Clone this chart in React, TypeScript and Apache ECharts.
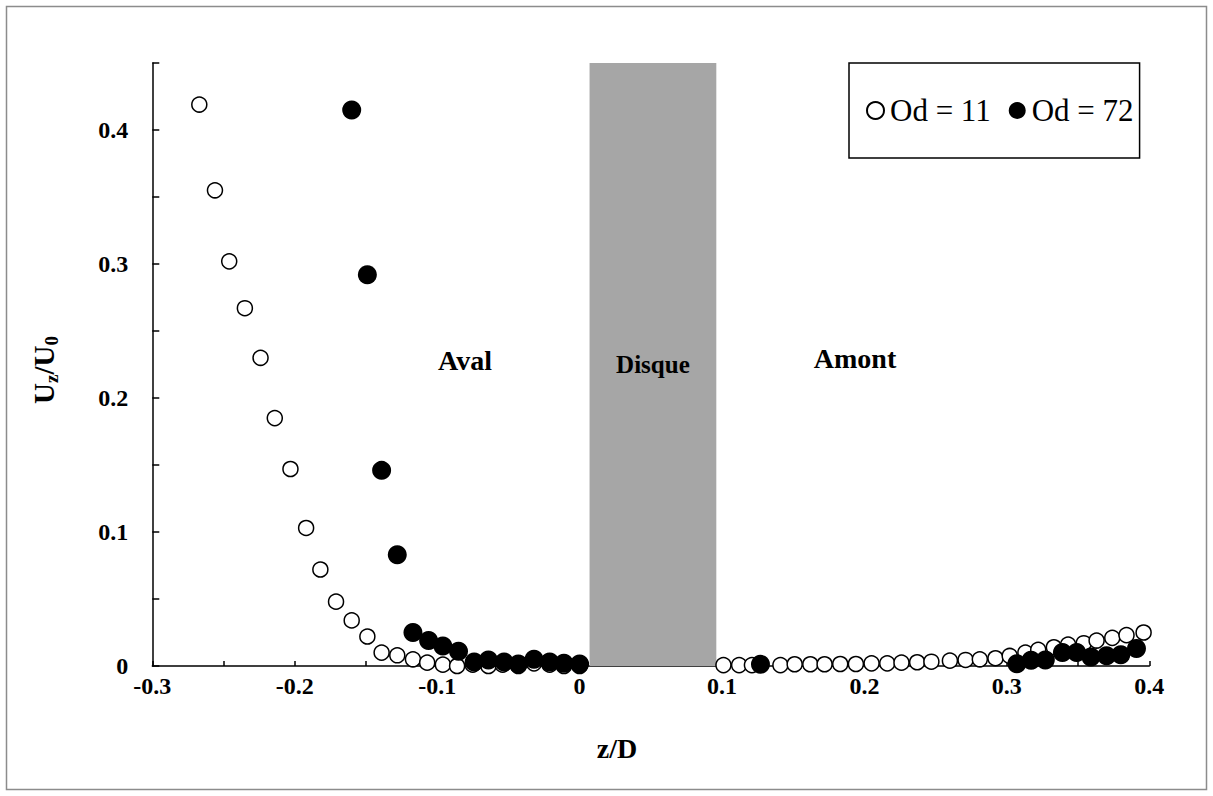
import React, { useEffect, useRef } from 'react';
import * as echarts from 'echarts';

// Od = 11 (open circles)
const od11X = [
  -0.267, -0.256, -0.246, -0.235, -0.224, -0.214, -0.203, -0.192, -0.182, -0.171,
  -0.160, -0.149, -0.139, -0.128, -0.117, -0.107, -0.096, -0.086, -0.075, -0.064,
  -0.054, -0.043, -0.032, -0.021, -0.011, 0.000,
  0.101, 0.112, 0.121, 0.141, 0.151, 0.162, 0.172, 0.183, 0.194, 0.205,
  0.216, 0.226, 0.237, 0.247, 0.260, 0.271, 0.281, 0.292, 0.302, 0.313,
  0.322, 0.333, 0.343, 0.354, 0.363, 0.374, 0.384, 0.396,
];
const od11Y = [
  0.419, 0.355, 0.302, 0.267, 0.230, 0.185, 0.147, 0.103, 0.072, 0.048,
  0.034, 0.022, 0.010, 0.008, 0.005, 0.0025, 0.001, 0.0, 0.001, 0.0,
  0.001, 0.0, 0.002, 0.001, 0.0, 0.0,
  0.0007, 0.0007, 0.0007, 0.0007, 0.0013, 0.0013, 0.0013, 0.0015, 0.0015, 0.002,
  0.002, 0.0025, 0.0028, 0.0032, 0.004, 0.0045, 0.005, 0.0058, 0.0075, 0.010,
  0.012, 0.014, 0.016, 0.017, 0.019, 0.021, 0.023, 0.025,
];

// Od = 72 (filled circles)
const od72X = [
  -0.160, -0.149, -0.139, -0.128, -0.117, -0.106, -0.096, -0.085, -0.074, -0.064,
  -0.053, -0.043, -0.032, -0.021, -0.011, 0.000,
  0.127,
  0.307, 0.317, 0.327, 0.339, 0.349, 0.359, 0.370, 0.380, 0.391,
];
const od72Y = [
  0.415, 0.292, 0.146, 0.083, 0.025, 0.019, 0.015, 0.011, 0.003, 0.0045,
  0.003, 0.0015, 0.005, 0.003, 0.002, 0.0015,
  0.0013,
  0.0017, 0.0043, 0.0045, 0.010, 0.010, 0.0067, 0.0077, 0.0084, 0.013,
];

const seriesNames = ['Od = 11', 'Od = 72'];
const diskRange = [0.007, 0.096];
const diskLabel = 'Disque';
const regionLabels = ['Aval', 'Amont'];

const FONT = '"Liberation Serif", "Times New Roman", serif';

const fmt = (v: number) => {
  const r = Math.round(v * 100);
  if (r % 10 !== 0) return '';
  return r === 0 ? '0' : (r / 100).toFixed(1);
};

export default function App() {
  const ref = useRef<HTMLDivElement>(null);
  useEffect(() => {
    const chart = echarts.init(ref.current!, null, { renderer: 'svg' });
    const axisCommon = {
      axisLine: { show: true, onZero: false, lineStyle: { color: '#000', width: 1.5 } },
      splitLine: { show: false },
      axisLabel: {
        color: '#000',
        fontFamily: FONT,
        fontWeight: 'bold',
        fontSize: 24,
        formatter: fmt,
        showMinLabel: true,
        showMaxLabel: true,
      },
    };
    chart.setOption({
      animation: false,
      backgroundColor: '#fff',
      grid: { left: 152.3, right: 63.7, top: 63, bottom: 130, containLabel: false },
      xAxis: {
        type: 'value',
        min: -0.3,
        max: 0.4,
        interval: 0.05,
        ...axisCommon,
        axisTick: { show: true, inside: true, length: 5, lineStyle: { color: '#000', width: 1.5 } },
        axisLabel: { ...axisCommon.axisLabel, margin: 8 },
      },
      yAxis: {
        type: 'value',
        min: 0,
        max: 0.45,
        interval: 0.05,
        ...axisCommon,
        axisTick: { show: true, inside: true, length: 7, lineStyle: { color: '#000', width: 1.5 } },
        axisLabel: { ...axisCommon.axisLabel, margin: 24 },
      },
      legend: {
        data: seriesNames,
        left: 849,
        top: 63,
        orient: 'horizontal',
        padding: [32, 6, 32, 17],
        itemGap: 18,
        itemWidth: 17,
        itemHeight: 17,
        borderColor: '#000',
        borderWidth: 1.5,
        textStyle: { fontFamily: FONT, fontSize: 31, color: '#000', padding: [0, 0, 0, 1] },
        selectedMode: false,
      },
      series: [
        {
          name: 'disk',
          type: 'scatter',
          data: [],
          silent: true,
          markArea: {
            silent: true,
            itemStyle: { color: '#a6a6a6' },
            label: {
              show: true,
              position: 'inside',
              formatter: diskLabel,
              fontFamily: FONT,
              fontWeight: 'bold',
              fontSize: 25,
              color: '#000',
            },
            data: [[{ coord: [diskRange[0], 0] }, { coord: [diskRange[1], 0.453] }]],
          },
        },
        {
          name: seriesNames[0],
          type: 'scatter',
          symbol: 'circle',
          symbolSize: 15,
          itemStyle: { color: '#fff', borderColor: '#000', borderWidth: 1.5, opacity: 1 },
          data: od11X.map((x, i) => [x, od11Y[i]]),
          z: 3,
        },
        {
          name: seriesNames[1],
          type: 'scatter',
          symbol: 'circle',
          symbolSize: 19,
          itemStyle: { color: '#000', opacity: 1 },
          data: od72X.map((x, i) => [x, od72Y[i]]),
          z: 4,
        },
      ],
      graphic: [
        {
          type: 'rect',
          shape: { x: 6.5, y: 6.5, width: 1200, height: 783 },
          style: { fill: 'none', stroke: '#8c8c8c', lineWidth: 1.5 },
          silent: true,
          z: -10,
        },
        {
          type: 'text',
          x: 465,
          y: 360,
          style: {
            text: regionLabels[0],
            font: `bold 28px ${FONT}`,
            fill: '#000',
            align: 'center',
            verticalAlign: 'middle',
          },
        },
        {
          type: 'text',
          x: 855,
          y: 358,
          style: {
            text: regionLabels[1],
            font: `bold 28px ${FONT}`,
            fill: '#000',
            align: 'center',
            verticalAlign: 'middle',
          },
        },
        {
          type: 'text',
          x: 617,
          y: 748,
          style: {
            text: 'z/D',
            font: `bold 28px ${FONT}`,
            fill: '#000',
            align: 'center',
            verticalAlign: 'middle',
          },
        },
        {
          type: 'text',
          x: 44,
          y: 370,
          rotation: Math.PI / 2,
          style: {
            text: '{b|U}{s|z}{b|/U}{s|0}',
            align: 'center',
            verticalAlign: 'middle',
            fill: '#000',
            rich: {
              b: { fontFamily: FONT, fontWeight: 'bold', fontSize: 29, lineHeight: 34, fill: '#000' },
              s: { fontFamily: FONT, fontWeight: 'bold', fontSize: 19, lineHeight: 12, verticalAlign: 'bottom', fill: '#000' },
            },
          },
        },
      ],
    });
    return () => chart.dispose();
  }, []);
  return (
    <div
      ref={ref}
      style={{ position: 'absolute', left: 0, top: 0, width: 1213, height: 796, background: '#fff' }}
    />
  );
}
